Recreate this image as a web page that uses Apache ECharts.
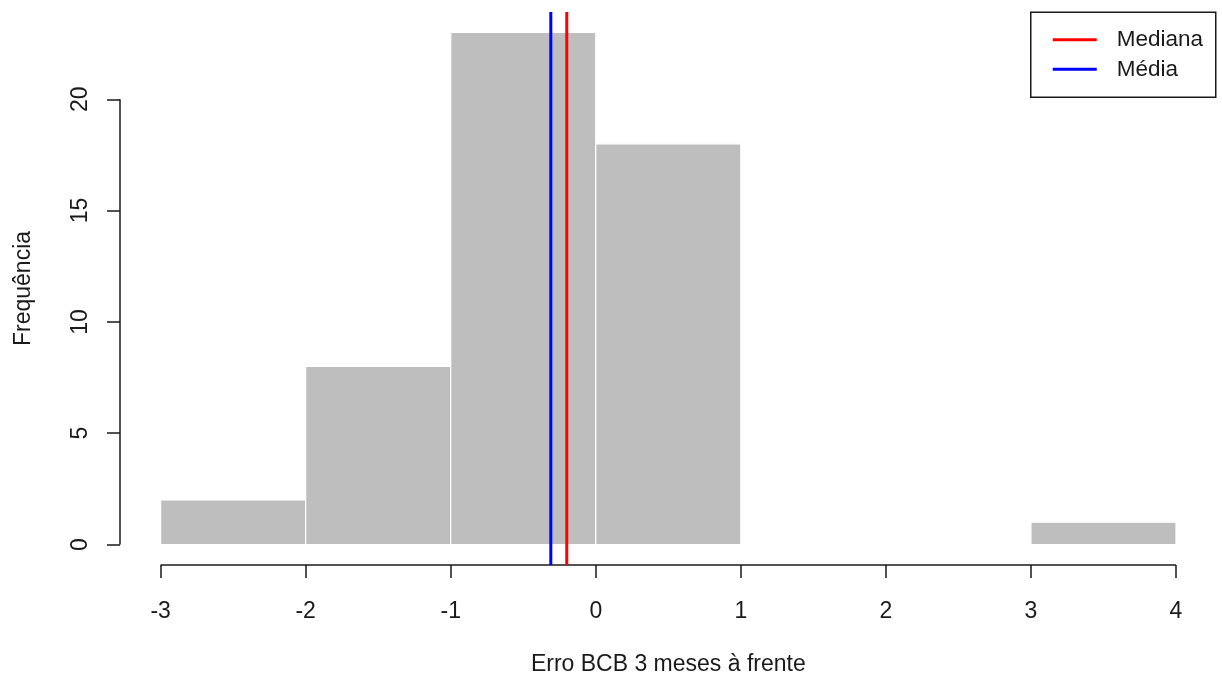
<!DOCTYPE html>
<html>
<head>
<meta charset="utf-8">
<script src="https://cdn.jsdelivr.net/npm/echarts@6/dist/echarts.min.js"></script>
<style>
  html, body { margin: 0; padding: 0; background: #ffffff; }
  #chart { width: 1222px; height: 679px; }
</style>
</head>
<body>
<div id="chart"></div>
<script>
// Histogram bins and frequencies
const binStarts = [-3, -2, -1, 0, 1, 2, 3];
const binEnds   = [-2, -1, 0, 1, 2, 3, 4];
const counts    = [2, 8, 23, 18, 0, 0, 1];

// Axis ticks
const xTicks = [-3, -2, -1, 0, 1, 2, 3, 4];
const yTicks = [0, 5, 10, 15, 20];

// Summary statistics
const mediana = -0.2;
const media = -0.31;

const FONT = "'Liberation Sans', Arial, sans-serif";
const INK = '#1a1a1a';
const FS = 23;

// R-style plot region: data range padded by 4% on each side
const xLo = binStarts[0], xHi = binEnds[binEnds.length - 1];
const yLo = 0, yHi = Math.max(...counts);
const xPad = (xHi - xLo) * 0.04, yPad = (yHi - yLo) * 0.04;
const xMin = xLo - xPad, xMax = xHi + xPad;
const yMin = yLo - yPad, yMax = yHi + yPad;

const histData = binStarts.map((s, i) => [s, binEnds[i], counts[i]]).filter(d => d[2] > 0);

const chart = echarts.init(document.getElementById('chart'), null, { renderer: 'canvas' });

chart.setOption({
  animation: false,
  backgroundColor: '#ffffff',
  grid: { left: 120, right: 5.4, top: 12, bottom: 114, containLabel: false, outerBoundsMode: 'none' },
  xAxis: {
    type: 'value', min: xMin, max: xMax,
    splitLine: { show: false },
    axisLine: { show: false, onZero: false },
    axisTick: { show: true, inside: false, length: 13, customValues: xTicks,
                lineStyle: { color: INK, width: 1.5 } },
    axisLabel: { customValues: xTicks, margin: 35, color: INK, fontSize: FS, fontFamily: FONT },
    name: 'Erro BCB 3 meses à frente',
    nameLocation: 'middle', nameGap: 88,
    nameTextStyle: { color: INK, fontSize: FS, fontFamily: FONT }
  },
  yAxis: {
    type: 'value', min: yMin, max: yMax,
    splitLine: { show: false },
    axisLine: { show: false, onZero: false },
    axisTick: { show: true, inside: false, length: 13, customValues: yTicks,
                lineStyle: { color: INK, width: 1.5 } },
    axisLabel: { customValues: yTicks, rotate: 90, margin: 28, color: INK, fontSize: FS, fontFamily: FONT },
    name: 'Frequência',
    nameLocation: 'middle', nameGap: 85, nameRotate: 90,
    nameTextStyle: { color: INK, fontSize: FS, fontFamily: FONT }
  },
  series: [
    {
      type: 'custom',
      data: histData,
      renderItem: function (params, api) {
        const p0 = api.coord([api.value(0), api.value(2)]);
        const p1 = api.coord([api.value(1), 0]);
        return {
          type: 'rect',
          shape: { x: p0[0], y: p0[1], width: p1[0] - p0[0], height: p1[1] - p0[1] },
          style: { fill: '#bebebe', stroke: '#ffffff', lineWidth: 1.2 }
        };
      },
      encode: { x: [0, 1], y: 2 },
      silent: true
    },
    // x axis line spanning first to last tick
    {
      type: 'line', silent: true, clip: false, symbol: 'none',
      data: [[xTicks[0], yMin], [xTicks[xTicks.length - 1], yMin]],
      lineStyle: { color: INK, width: 1.5 }
    },
    // y axis line spanning first to last tick
    {
      type: 'line', silent: true, clip: false, symbol: 'none',
      data: [[xMin, yTicks[0]], [xMin, yTicks[yTicks.length - 1]]],
      lineStyle: { color: INK, width: 1.5 }
    },
    {
      name: 'Mediana', type: 'line', silent: true, symbol: 'none',
      data: [[mediana, yMin], [mediana, yMax]],
      lineStyle: { color: '#ff0000', width: 3 }
    },
    {
      name: 'Média', type: 'line', silent: true, symbol: 'none',
      data: [[media, yMin], [media, yMax]],
      lineStyle: { color: '#0000ff', width: 3 }
    }
  ],
  graphic: [
    {
      type: 'group', left: 1030, top: 11.5,
      children: [
        { type: 'rect', shape: { x: 0, y: 0, width: 185, height: 85 },
          style: { fill: '#ffffff', stroke: INK, lineWidth: 1.5 } },
        { type: 'line', shape: { x1: 22, y1: 27.5, x2: 66, y2: 27.5 },
          style: { stroke: '#ff0000', lineWidth: 3 } },
        { type: 'line', shape: { x1: 22, y1: 57, x2: 66, y2: 57 },
          style: { stroke: '#0000ff', lineWidth: 3 } },
        { type: 'text', x: 86, y: 28,
          style: { text: 'Mediana', fill: INK, font: '22.5px ' + FONT, verticalAlign: 'middle' } },
        { type: 'text', x: 86, y: 57.5,
          style: { text: 'Média', fill: INK, font: '22.5px ' + FONT, verticalAlign: 'middle' } }
      ]
    }
  ]
});
</script>
</body>
</html>
